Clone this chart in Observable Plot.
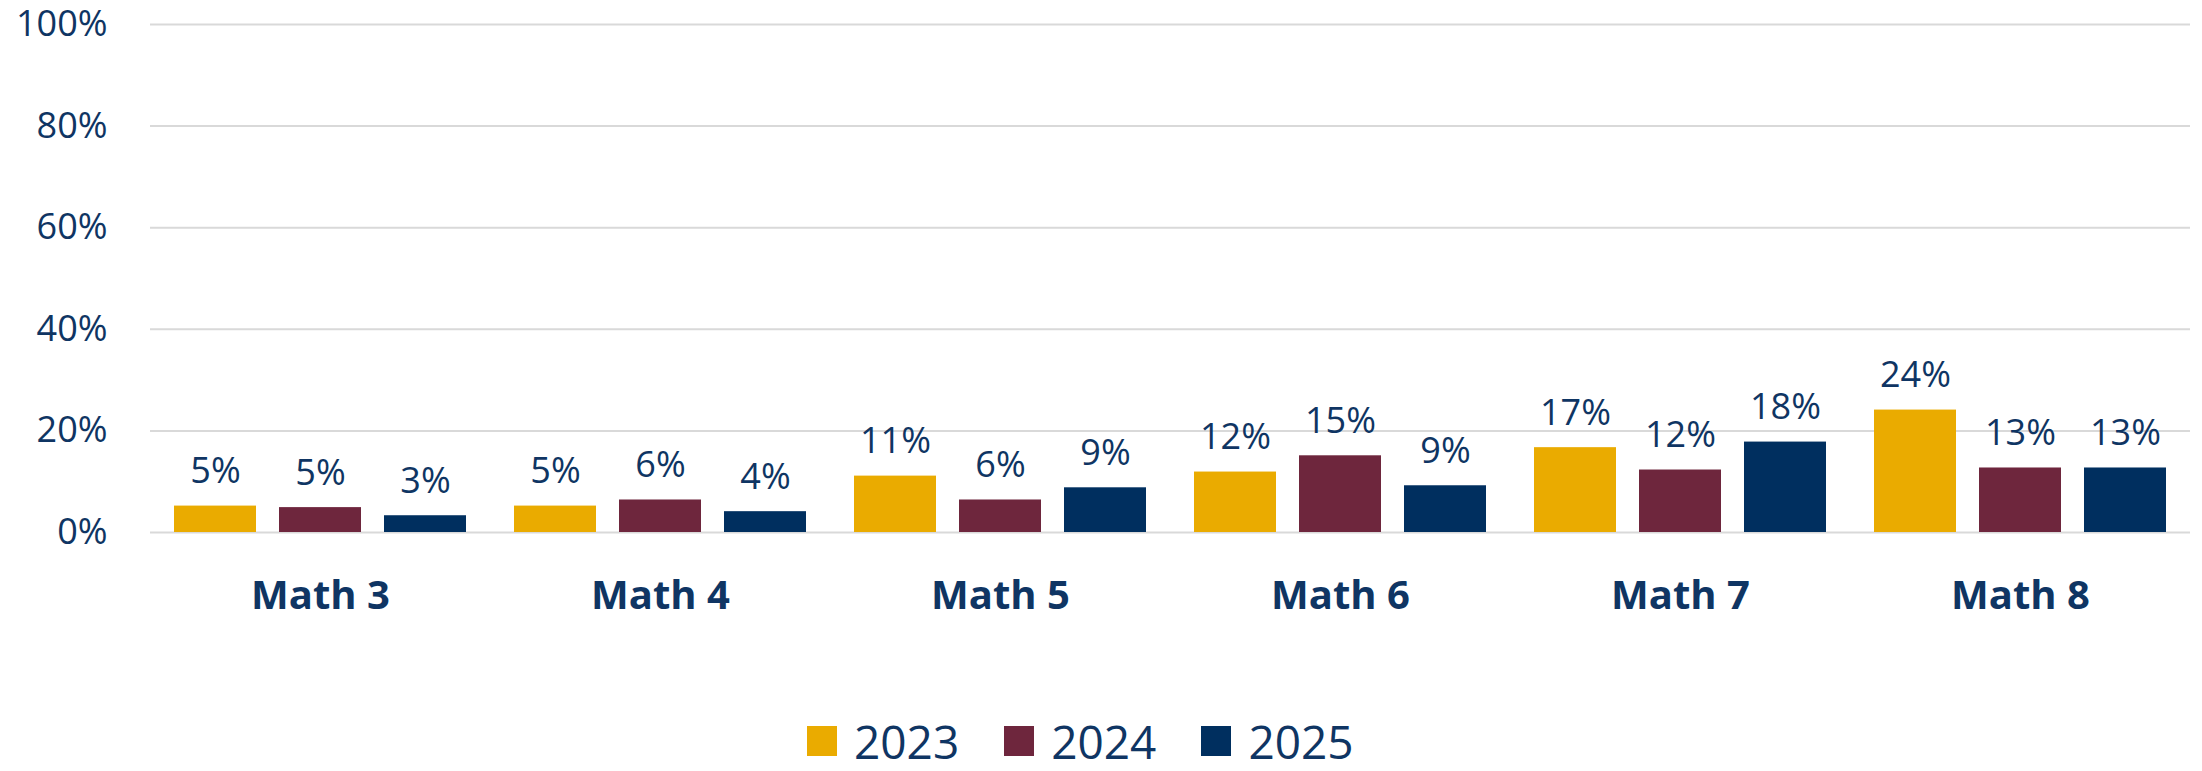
<!DOCTYPE html>
<html>
<head>
<meta charset="utf-8">
<script src="https://cdn.jsdelivr.net/npm/d3@7"></script>
<script src="https://cdn.jsdelivr.net/npm/@observablehq/plot@0.6"></script>
<style>
  html, body { margin: 0; padding: 0; background: #fff; overflow: hidden; }
  #chart svg { overflow: visible; }
  #legend { display: flex; align-items: center; padding-left: 807px; padding-top: 23px;
            font-family: 'Open Sans', sans-serif; font-size: 46px; line-height: 36px; height: 36px; color: #0f3563; }
  #legend .sw { width: 30px; height: 30px; margin-right: 17px; }
  #legend .lb { margin-right: 45px; }
</style>
</head>
<body>
<div id="chart"></div>
<div id="legend"></div>
<script>
const categories = ["Math 3", "Math 4", "Math 5", "Math 6", "Math 7", "Math 8"];
const years = ["2023", "2024", "2025"];
const v2023 = [5.2, 5.2, 11.1, 11.9, 16.7, 24.1];
const v2024 = [4.9, 6.4, 6.4, 15.1, 12.3, 12.7];
const v2025 = [3.3, 4.1, 8.8, 9.2, 17.8, 12.7];
const yTicks = [0, 20, 40, 60, 80, 100];
const colors = ["#EAAB00", "#6E263D", "#002F5F"];
const navy = "#0f3563";

const series = [v2023, v2024, v2025];
const data = [];
categories.forEach((c, i) => {
  years.forEach((y, j) => data.push({cat: c, year: y, value: series[j][i]}));
});

const chart = Plot.plot({
  width: 2202,
  height: 700,
  marginLeft: 148,
  marginRight: 10,
  marginTop: 24,
  marginBottom: 168,
  style: {fontFamily: "'Open Sans', sans-serif", color: navy, background: "#fff"},
  fx: {domain: categories, padding: 0, label: null},
  x: {domain: years, padding: 0.217, axis: null},
  y: {domain: [0, 100]},
  color: {domain: years, range: colors},
  marks: [
    Plot.gridY(yTicks, {stroke: "#d9d9d9", strokeOpacity: 1, strokeWidth: 2}),
    Plot.barY(data, {fx: "cat", x: "year", y: "value", fill: "year"}),
    Plot.text(data, {fx: "cat", x: "year", y: "value", text: d => Math.round(d.value) + "%",
      lineAnchor: "bottom", dy: -23, fontSize: 36, fill: navy}),
    Plot.axisY(yTicks, {tickSize: 0, tickPadding: 43, fontSize: 36, tickFormat: d => d + "%", label: null}),
    Plot.axisFx({anchor: "bottom", tickSize: 0, tickPadding: 48, fontSize: 40, fontWeight: "bold", label: null})
  ]
});
document.getElementById("chart").appendChild(chart);

const legend = document.getElementById("legend");
years.forEach((y, i) => {
  const sw = document.createElement("div");
  sw.className = "sw";
  sw.style.background = colors[i];
  const lb = document.createElement("span");
  lb.className = "lb";
  lb.textContent = y;
  legend.appendChild(sw);
  legend.appendChild(lb);
});
</script>
</body>
</html>
